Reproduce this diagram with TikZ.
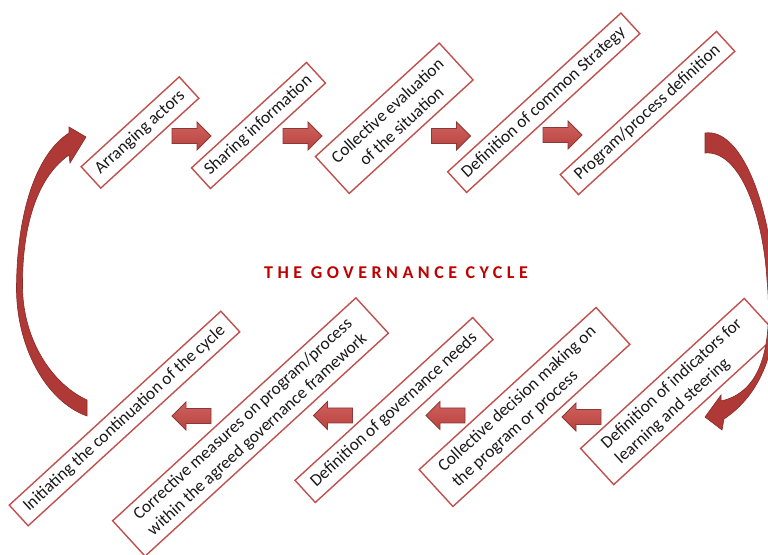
\documentclass[tikz,border=0pt]{standalone}
\usepackage{fontspec}
\setmainfont{Carlito}
\newfontfamily\titlefont[LetterSpace=25]{Carlito}
\definecolor{boxred}{HTML}{C0504D}
\definecolor{arrowlight}{HTML}{D0625F}
\definecolor{arrowmid}{HTML}{B8423F}
\definecolor{arrowdark}{HTML}{8C3836}
\definecolor{bigred}{HTML}{AE3936}
\definecolor{bigdark}{HTML}{8A2A27}
\definecolor{titlered}{HTML}{C00000}
\begin{document}
\begin{tikzpicture}[x=1pt,y=1pt,
  box/.style={draw=boxred, line width=1.4pt, fill=white, rotate=42.5,
    font=\fontsize{17.3}{20.8}\selectfont, inner xsep=6pt, inner ysep=4pt, text=black!90},
  blockarrow/.style={draw=arrowdark, line width=0.8pt, top color=arrowlight, bottom color=arrowmid},
  bigarrow/.style={fill=bigred, draw=bigdark, line width=0.6pt},
  rarrow/.pic={\path[blockarrow] (-19.5,-7.5) -- (5.5,-7.5) -- (5.5,-14) -- (19.5,0) -- (5.5,14) -- (5.5,7.5) -- (-19.5,7.5) -- cycle;}
]
\useasboundingbox (0,0) rectangle (768,554);

% top row boxes
\node[box, minimum width=133pt, minimum height=29pt] (b1) at (140,554-132.5) {Arranging actors};
\node[box, minimum width=156pt, minimum height=28pt] (b2) at (258.5,554-125.5) {Sharing information};
\node[box, minimum width=168pt, minimum height=50pt, align=center] (b3) at (394.25,554-118.25) {Collective evaluation\\of the situation};
\node[box, minimum width=235pt, minimum height=28pt] (b4) at (543.75,554-102.75) {Definition of common Strategy};
\node[box, minimum width=212pt, minimum height=27pt] (b5) at (647.5,554-113) {Program/process definition};

% bottom row boxes
\node[box, minimum width=222pt, minimum height=49pt, align=left] (b6) at (679,554-391.5) {Definition of indicators for\\learning and steering};
\node[box, minimum width=240pt, minimum height=50pt, align=left] (b7) at (524.5,554-407) {Collective decision making on\\the program or process};
\node[box, minimum width=241pt, minimum height=30pt] (b8) at (394,554-410) {Definition of governance needs};
\node[box, minimum width=330pt, minimum height=48pt, align=left] (b9) at (250.5,554-427) {Corrective measures on program/process\\within the agreed governance framework};
\node[box, minimum width=287pt, minimum height=28pt] (b10) at (124.5,554-418.5) {Initiating the continuation of the cycle};

% title
\node[font=\titlefont\bfseries\fontsize{18}{20}\selectfont, text=titlered] (title) at (396,554-273) {THE GOVERNANCE CYCLE};

% block arrows, top row (pointing right)
\coordinate (t1) at (191.5,554-136);
\coordinate (t2) at (302.5,554-136);
\coordinate (t3) at (451,554-136);
\coordinate (t4) at (562.5,554-135);
\pic (p1) at (t1) {rarrow};
\pic (p2) at (t2) {rarrow};
\pic (p3) at (t3) {rarrow};
\pic (p4) at (t4) {rarrow};

% block arrows, bottom row (pointing left)
\coordinate (u1) at (581.5,554-417);
\coordinate (u2) at (445.5,554-415.5);
\coordinate (u3) at (333,554-415.5);
\coordinate (u4) at (191.5,554-416);
\pic[xscale=-1] (q1) at (u1) {rarrow};
\pic[xscale=-1] (q2) at (u2) {rarrow};
\pic[xscale=-1] (q3) at (u3) {rarrow};
\pic[xscale=-1] (q4) at (u4) {rarrow};

% big curved arrows (image coordinates)
\begin{scope}[shift={(0,554)}, yscale=-1]
\path[bigarrow] (87,416) .. controls (45,401) and (16,345) .. (16.5,287)
  .. controls (17,215) and (35,155) .. (69,133) -- (69,127) -- (86,137) -- (70,163) -- (69,155)
  .. controls (40,175) and (22,220) .. (22.5,287)
  .. controls (23,340) and (52,384) .. (87,400) -- cycle;
\path[bigarrow] (705,133) .. controls (740,128) and (770,200) .. (775,290)
  .. controls (779,350) and (760,395) .. (724,419) -- (722,430) -- (705,417) -- (721,395) -- (721,401)
  .. controls (762,392) and (773,345) .. (767,280)
  .. controls (763,215) and (740,150) .. (705,153) -- cycle;
\end{scope}
\end{tikzpicture}
\end{document}
